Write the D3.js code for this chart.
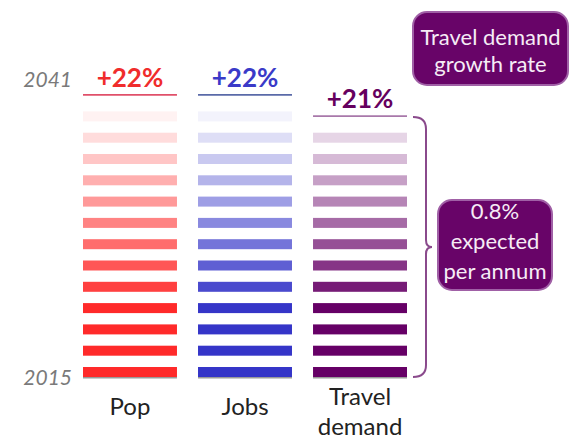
<!DOCTYPE html>
<html>
<head>
<meta charset="utf-8">
<script src="https://cdn.jsdelivr.net/npm/d3@7/dist/d3.min.js"></script>
<style>
  html, body { margin: 0; padding: 0; background: #fff; }
  svg { display: block; }
  text { font-family: Lato, "Open Sans", sans-serif; }
</style>
</head>
<body>
<svg id="chart" width="570" height="440"></svg>
<script>
// ---- data ----
const categories = ["Pop", "Jobs", "Travel demand"];
const growthLabels = ["+22%", "+22%", "+21%"];
const stripeCounts = [13, 13, 12];
const yearLabels = ["2015", "2041"];
const rateLabel = ["0.8%", "expected", "per annum"];
const titleLabel = ["Travel demand", "growth rate"];

// ---- styles ----
const baseColors = ["#ff2a2a", "#3535c8", "#660066"];
const topLineColors = ["#e0506a", "#5a6aa8", "#a878aa"];
const labelColors = ["#f02c2c", "#3a3ac8", "#66005e"];

const svg = d3.select("#chart");

const x = d3.scaleBand().domain(categories).range([83, 407]).paddingInner(0.183).paddingOuter(0);
const y = d3.scaleLinear().domain([0, 13]).range([377, 377 - 13 * 21.3]);
const fade = d3.scaleLinear().domain([3, 12]).range([1, 0.06]).clamp(true);
const stripeH = 10;

categories.forEach((cat, ci) => {
  const g = svg.append("g");
  const idx = d3.range(stripeCounts[ci]);
  g.selectAll("rect").data(idx).enter().append("rect")
    .attr("x", x(cat))
    .attr("width", x.bandwidth())
    .attr("y", i => y(i) - stripeH)
    .attr("height", stripeH)
    .attr("fill", i => d3.interpolateRgb("#ffffff", baseColors[ci])(fade(i)));

  // baseline (2015)
  g.append("line")
    .attr("x1", x(cat)).attr("x2", x(cat) + x.bandwidth())
    .attr("y1", y(0) + 0.8).attr("y2", y(0) + 0.8)
    .attr("stroke", "#9a9a9a").attr("stroke-width", 1.5);

  // top line (2041)
  const topY = y(stripeCounts[ci] + 0.25);
  g.append("line")
    .attr("x1", x(cat)).attr("x2", x(cat) + x.bandwidth())
    .attr("y1", topY).attr("y2", topY)
    .attr("stroke", topLineColors[ci]).attr("stroke-width", 1.8);

  g.append("text")
    .attr("x", x(cat) + x.bandwidth() / 2)
    .attr("y", topY - 8)
    .attr("text-anchor", "middle")
    .attr("font-size", 26).attr("font-weight", 700)
    .attr("fill", labelColors[ci])
    .text(growthLabels[ci]);

  // category labels
  const words = cat === "Travel demand" ? ["Travel", "demand"] : [cat];
  const t = g.append("text")
    .attr("text-anchor", "middle")
    .attr("font-size", 24)
    .attr("fill", "#222");
  words.forEach((w, wi) => {
    t.append("tspan")
      .attr("x", x(cat) + x.bandwidth() / 2)
      .attr("y", (words.length > 1 ? 405 : 415) + wi * 30)
      .text(w);
  });
});

// year labels
svg.append("text").attr("x", 72).attr("y", 385)
  .attr("text-anchor", "end").attr("font-size", 21).attr("font-style", "italic")
  .attr("fill", "#7a7a7a").text(yearLabels[0]);
svg.append("text").attr("x", 72).attr("y", 87)
  .attr("text-anchor", "end").attr("font-size", 21).attr("font-style", "italic")
  .attr("fill", "#7a7a7a").text(yearLabels[1]);

// brace
const bx = 426, topB = y(12.25) + 1, botB = y(0), midB = (topB + botB) / 2;
const brace = d3.path();
brace.moveTo(bx - 13, topB);
brace.quadraticCurveTo(bx, topB, bx, topB + 12);
brace.lineTo(bx, midB - 7);
brace.quadraticCurveTo(bx, midB, bx + 6, midB);
brace.quadraticCurveTo(bx, midB, bx, midB + 7);
brace.lineTo(bx, botB - 12);
brace.quadraticCurveTo(bx, botB, bx - 13, botB);
svg.append("path").attr("d", brace.toString())
  .attr("fill", "none").attr("stroke", "#8a4a8c").attr("stroke-width", 2);

// boxes
function box(x0, y0, w, h, lines, baselines) {
  svg.append("rect").attr("x", x0).attr("y", y0).attr("width", w).attr("height", h)
    .attr("rx", 14).attr("ry", 14)
    .attr("fill", "#680468").attr("stroke", "#a060a6").attr("stroke-width", 2);
  lines.forEach((l, i) => {
    svg.append("text").attr("x", x0 + w / 2).attr("y", baselines[i])
      .attr("text-anchor", "middle").attr("font-size", 22)
      .attr("fill", "#f6ecf6").text(l);
  });
}
box(413, 12, 155, 73, titleLabel, [45, 72]);
box(438, 200, 114, 90, rateLabel, [219, 249, 279]);
</script>
</body>
</html>
